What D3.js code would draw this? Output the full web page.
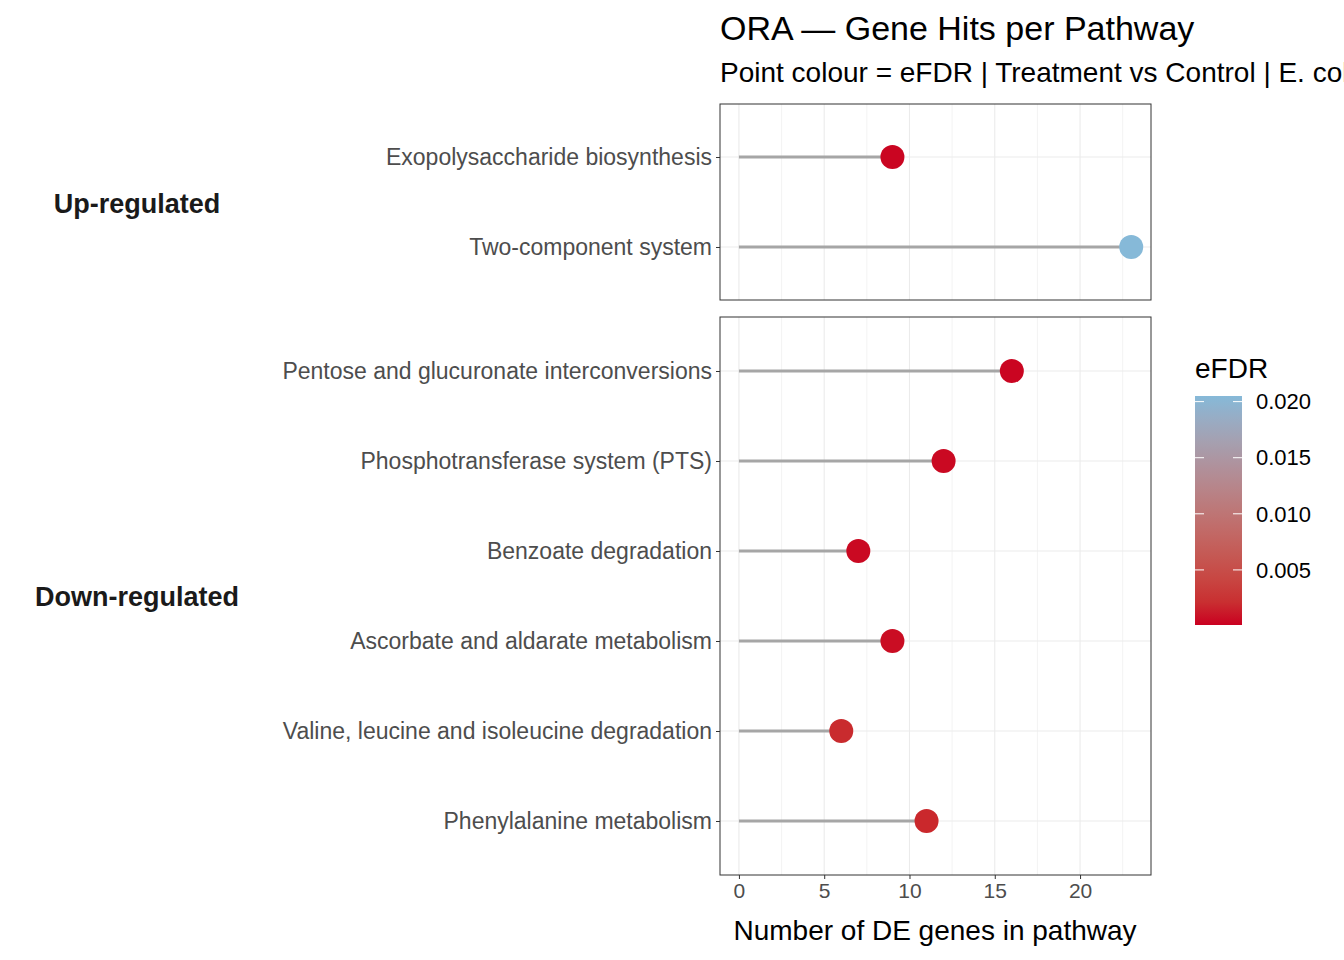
<!DOCTYPE html>
<html><head><meta charset="utf-8">
<script src="https://cdn.jsdelivr.net/npm/d3@7"></script>
<style>body{margin:0;background:#fff}text{font-family:"Liberation Sans",Arial,sans-serif}</style>
</head><body><svg id="c" width="1344" height="960"></svg>
<script>
const groups = ["Up-regulated","Down-regulated"];
const upPathways = ["Exopolysaccharide biosynthesis","Two-component system"];
const upHits = [9,23];
const upFDR = [0.0002,0.0205];
const downPathways = ["Pentose and glucuronate interconversions","Phosphotransferase system (PTS)","Benzoate degradation","Ascorbate and aldarate metabolism","Valine, leucine and isoleucine degradation","Phenylalanine metabolism"];
const downHits = [16,12,7,9,6,11];
const downFDR = [0.0002,0.0003,0.0003,0.0004,0.0018,0.0016];
const xTicks = [0,5,10,15,20];
const legendTicks = [0.005,0.010,0.015,0.020];

const svg = d3.select("#c");
const x = d3.scaleLinear().domain([-1.11,24.16]).range([720,1151]);
const col = d3.scaleLinear().domain([0.00009,0.0205]).range(["#CA0020","#86B9D8"]).interpolate(d3.interpolateLab);

const panels = [
  {name:groups[0], p:upPathways, h:upHits, f:upFDR, y0:104, y1:300, ly:204, pad:0.589},
  {name:groups[1], p:downPathways, h:downHits, f:downFDR, y0:317, y1:875, ly:597, pad:0.6}
];
panels.forEach(P=>{
  const y = d3.scalePoint().domain(P.p).range([P.y0, P.y1]).padding(P.pad);
  const g = svg.append("g");
  d3.range(0,24,2.5).forEach(v=>{
    g.append("line").attr("x1",x(v)).attr("x2",x(v)).attr("y1",P.y0).attr("y2",P.y1)
     .attr("stroke","#EBEBEB").attr("stroke-width", v%5===0?1.1:0.6);
  });
  P.p.forEach(n=>{
    g.append("line").attr("x1",720).attr("x2",1151).attr("y1",y(n)).attr("y2",y(n)).attr("stroke","#EBEBEB").attr("stroke-width",1.1);
  });
  P.p.forEach((n,i)=>{
    g.append("line").attr("x1",x(0)).attr("x2",x(P.h[i])).attr("y1",y(n)).attr("y2",y(n)).attr("stroke","#A6A6A6").attr("stroke-width",3);
    g.append("circle").attr("cx",x(P.h[i])).attr("cy",y(n)).attr("r",12).attr("fill",col(P.f[i]));
  });
  g.append("rect").attr("x",720).attr("y",P.y0).attr("width",431).attr("height",P.y1-P.y0).attr("fill","none").attr("stroke","#333").attr("stroke-width",1);
  const ax = d3.axisLeft(y).tickSize(4).tickPadding(4);
  const a = svg.append("g").attr("transform","translate(720,0)").call(ax);
  a.select(".domain").remove();
  a.selectAll("line").attr("stroke","#333");
  a.selectAll("text").attr("font-size",23).attr("fill","#4D4D4D");
  svg.append("text").attr("x",137).attr("y",P.ly).attr("dy","0.35em").attr("text-anchor","middle").attr("font-size",27).attr("font-weight","bold").attr("fill","#1A1A1A").text(P.name);
});
const xa = svg.append("g").attr("transform","translate(0,875)").call(d3.axisBottom(x).tickValues(xTicks).tickSize(4).tickPadding(4));
xa.select(".domain").remove();
xa.selectAll("line").attr("stroke","#333");
xa.selectAll("text").attr("font-size",21).attr("fill","#4D4D4D");
svg.append("text").attr("x",935).attr("y",940).attr("text-anchor","middle").attr("font-size",28).attr("fill","#000").text("Number of DE genes in pathway");
svg.append("text").attr("x",720).attr("y",40).attr("font-size",34).attr("fill","#000").text("ORA — Gene Hits per Pathway");
svg.append("text").attr("x",720).attr("y",82).attr("font-size",28).attr("fill","#000").text("Point colour = eFDR | Treatment vs Control | E. coli");
svg.append("text").attr("x",1195).attr("y",378).attr("font-size",28).attr("fill","#000").text("eFDR");
const defs = svg.append("defs");
const lg = defs.append("linearGradient").attr("id","lg").attr("x1",0).attr("x2",0).attr("y1",1).attr("y2",0);
d3.range(0,1.001,0.1).forEach(t=>lg.append("stop").attr("offset",t).attr("stop-color",col(0.00009+t*(0.0205-0.00009))));
const ly = d3.scaleLinear().domain([0.00009,0.0205]).range([625,396]);
svg.append("rect").attr("x",1195).attr("y",396).attr("width",47).attr("height",229).attr("fill","url(#lg)");
legendTicks.forEach(v=>{
  svg.append("line").attr("x1",1195).attr("x2",1204).attr("y1",ly(v)).attr("y2",ly(v)).attr("stroke","#fff");
  svg.append("line").attr("x1",1233).attr("x2",1242).attr("y1",ly(v)).attr("y2",ly(v)).attr("stroke","#fff");
  svg.append("text").attr("x",1256).attr("y",ly(v)).attr("dy","0.35em").attr("font-size",22).attr("fill","#000").text(v.toFixed(3));
});
</script></body></html>
